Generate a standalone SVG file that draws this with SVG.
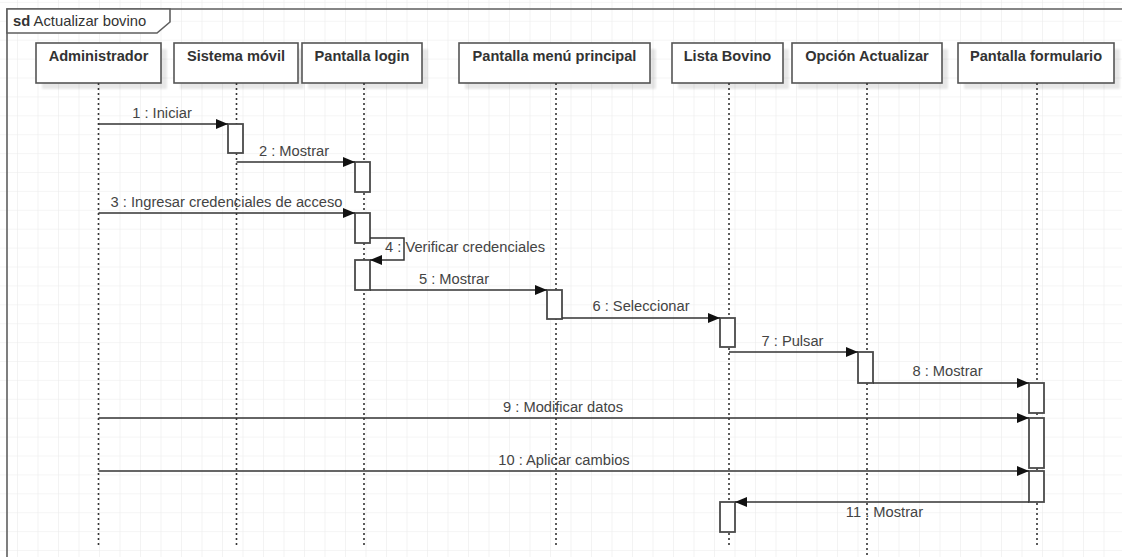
<svg xmlns="http://www.w3.org/2000/svg" width="1122" height="557" viewBox="0 0 1122 557">
  <style>
    .frame { fill: none; stroke: #5f5f5f; stroke-width: 1.6; }
    .tab { fill: #ffffff; stroke: #5f5f5f; stroke-width: 1.6; }
    .head { fill: #ffffff; stroke: #555555; stroke-width: 1.6; }
    .shadow { fill: #000000; opacity: 0.09; }
    .name { font-family: "Liberation Sans", Arial, sans-serif; font-size: 14.6px; font-weight: bold; fill: #333333; text-anchor: middle; }
    .life { stroke: #333333; stroke-width: 1.6; stroke-dasharray: 2 3; fill: none; }
    .act { fill: #ffffff; stroke: #4a4a4a; stroke-width: 1.8; }
    .msg { stroke: #333333; stroke-width: 1.5; fill: none; marker-end: url(#arrow); }
    .lbl { font-family: "Liberation Sans", Arial, sans-serif; font-size: 14.7px; fill: #444444; text-anchor: middle; }
    .title { font-family: "Liberation Sans", Arial, sans-serif; font-size: 14.8px; fill: #333333; }
  </style>
  <defs>
    <pattern id="grid" patternUnits="userSpaceOnUse" x="17" y="1.9" width="20.5" height="18.9">
      <path d="M0,0 H20.5 M0,0 V18.9" fill="none" stroke="#ebebeb" stroke-width="1.2"/>
    </pattern>
    <marker id="arrow" markerUnits="userSpaceOnUse" viewBox="0 0 12 10" refX="12" refY="5" markerWidth="12" markerHeight="10" orient="auto">
      <path d="M0,0 L12,5 L0,10 Z" fill="#111111"/>
    </marker>
    <filter id="soft" x="-10%" y="-10%" width="130%" height="130%">
      <feGaussianBlur stdDeviation="1.2"/>
    </filter>
  </defs>

  <!-- canvas and grid -->
  <rect x="0" y="0" width="1122" height="557" fill="#ffffff"/>
  <rect x="0" y="0" width="1122" height="557" fill="url(#grid)"/>

  <!-- interaction frame -->
  <g id="frame">
    <path class="frame" d="M7,570 V9 H1130"/>
    <path class="tab" d="M7,9 H170 V22 L157,33 H7 Z"/>
    <text class="title" x="13" y="26"><tspan font-weight="bold">sd</tspan> Actualizar bovino</text>
  </g>

  <!-- lifelines -->
  <g id="administrador">
    <rect class="shadow" x="42" y="49" width="125" height="40" filter="url(#soft)"/>
    <rect class="head" x="36" y="43" width="125" height="40"/>
    <text class="name" x="98.5" y="61">Administrador</text>
    <line class="life" x1="98.5" y1="83" x2="98.5" y2="545"/>
  </g>

  <g id="sistema-movil">
    <rect class="shadow" x="180" y="49" width="124" height="40" filter="url(#soft)"/>
    <rect class="head" x="174" y="43" width="124" height="40"/>
    <text class="name" x="236" y="61">Sistema móvil</text>
    <line class="life" x1="236.5" y1="83" x2="236.5" y2="545"/>
    <rect class="act" x="228" y="124" width="15" height="29"/>
  </g>

  <g id="pantalla-login">
    <rect class="shadow" x="308" y="49" width="120" height="40" filter="url(#soft)"/>
    <rect class="head" x="302" y="43" width="120" height="40"/>
    <text class="name" x="362" y="61">Pantalla login</text>
    <line class="life" x1="364" y1="83" x2="364" y2="545"/>
    <rect class="act" x="355" y="162" width="15" height="30"/>
    <rect class="act" x="355" y="213" width="15" height="30"/>
    <rect class="act" x="355" y="260" width="15" height="30"/>
  </g>

  <g id="pantalla-menu-principal">
    <rect class="shadow" x="465" y="49" width="191" height="40" filter="url(#soft)"/>
    <rect class="head" x="459" y="43" width="191" height="40"/>
    <text class="name" x="554.5" y="61">Pantalla menú principal</text>
    <line class="life" x1="556" y1="83" x2="556" y2="545"/>
    <rect class="act" x="547" y="290" width="15" height="29"/>
  </g>

  <g id="lista-bovino">
    <rect class="shadow" x="678" y="49" width="111" height="40" filter="url(#soft)"/>
    <rect class="head" x="672" y="43" width="111" height="40"/>
    <text class="name" x="727.5" y="61">Lista Bovino</text>
    <line class="life" x1="729" y1="83" x2="729" y2="547"/>
    <rect class="act" x="720" y="318" width="15" height="29"/>
    <rect class="act" x="720" y="502" width="15" height="30"/>
  </g>

  <g id="opcion-actualizar">
    <rect class="shadow" x="798" y="49" width="150" height="40" filter="url(#soft)"/>
    <rect class="head" x="792" y="43" width="150" height="40"/>
    <text class="name" x="867" y="61">Opción Actualizar</text>
    <line class="life" x1="867" y1="83" x2="867" y2="556"/>
    <rect class="act" x="858" y="352" width="15" height="31"/>
  </g>

  <g id="pantalla-formulario">
    <rect class="shadow" x="964" y="49" width="156" height="40" filter="url(#soft)"/>
    <rect class="head" x="958" y="43" width="156" height="40"/>
    <text class="name" x="1036" y="61">Pantalla formulario</text>
    <line class="life" x1="1037" y1="83" x2="1037" y2="547"/>
    <rect class="act" x="1029" y="383" width="15" height="30"/>
    <rect class="act" x="1029" y="418" width="15" height="50"/>
    <rect class="act" x="1029" y="471" width="15" height="31"/>
  </g>

  <!-- messages -->
  <g id="messages">
    <line class="msg" x1="98.5" y1="124" x2="228" y2="124"/>
    <text class="lbl" x="162" y="118">1 : Iniciar</text>

    <line class="msg" x1="236.5" y1="162" x2="355" y2="162"/>
    <text class="lbl" x="294" y="156">2 : Mostrar</text>

    <line class="msg" x1="98.5" y1="213" x2="355" y2="213"/>
    <text class="lbl" x="226.5" y="206.5">3 : Ingresar credenciales de acceso</text>

    <path class="msg" d="M370,238 H404 V260 H370"/>
    <text class="lbl" x="465" y="252">4 : Verificar credenciales</text>

    <line class="msg" x1="370" y1="290" x2="547" y2="290"/>
    <text class="lbl" x="454" y="283.5">5 : Mostrar</text>

    <line class="msg" x1="562" y1="318" x2="720" y2="318"/>
    <text class="lbl" x="641" y="310.5">6 : Seleccionar</text>

    <line class="msg" x1="729" y1="352" x2="858" y2="352"/>
    <text class="lbl" x="792.5" y="345.5">7 : Pulsar</text>

    <line class="msg" x1="873" y1="383" x2="1029" y2="383"/>
    <text class="lbl" x="947.5" y="376">8 : Mostrar</text>

    <line class="msg" x1="98.5" y1="418" x2="1029" y2="418"/>
    <text class="lbl" x="563" y="412">9 : Modificar datos</text>

    <line class="msg" x1="98.5" y1="471" x2="1029" y2="471"/>
    <text class="lbl" x="564" y="465">10 : Aplicar cambios</text>

    <line class="msg" x1="1029" y1="502" x2="735" y2="502"/>
    <text class="lbl" x="884.5" y="517">11 : Mostrar</text>
  </g>
</svg>
